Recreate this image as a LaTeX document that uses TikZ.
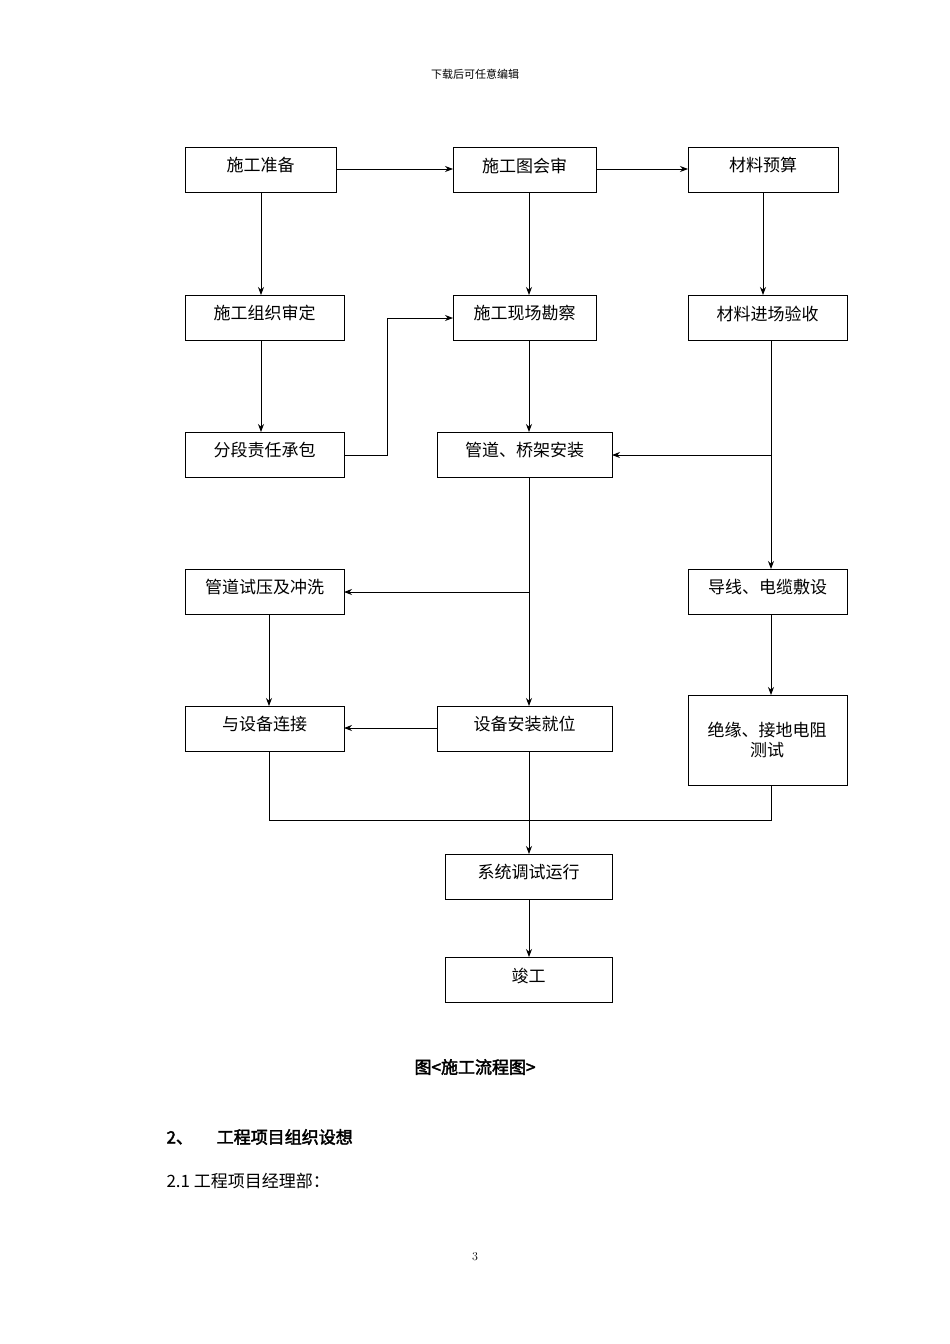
\documentclass[tikz,border=0pt]{standalone}
\usepackage{fontspec}
\newfontfamily\cjk[AutoFakeBold=2.5]{Noto Sans CJK SC}
\usetikzlibrary{arrows.meta}
\begin{document}
\begin{tikzpicture}[x=1pt,y=-1pt,
  bx/.style={draw,line width=0.9pt,inner sep=0pt},
  lbl/.style={font=\cjk\fontsize{17}{20}\selectfont,align=center},
  ar/.style={-{Stealth[length=8pt,width=6pt]},line width=0.8pt},
  ln/.style={line width=0.8pt}]
\useasboundingbox (0,0) rectangle (950,1344);
\def\B#1#2#3#4#5#6{\draw[bx] (#2,#3) rectangle (#4,#5); \coordinate (#1) at ({(#2+#4)/2},{(#3+#5)/2});
  \node[lbl] (#1t) at ({(#2+#4)/2},{(#3+#5)/2-4}) {#6};}
\B{a}{185}{147}{336}{192}{施工准备}
\B{b}{453}{147}{596}{192}{施工图会审}
\B{c}{688}{147}{838}{192}{材料预算}
\B{d}{185}{295}{344}{340}{施工组织审定}
\B{e}{453}{295}{596}{340}{施工现场勘察}
\B{f}{688}{295}{847}{340}{材料进场验收}
\B{g}{185}{432}{344}{477}{分段责任承包}
\B{h}{437}{432}{612}{477}{管道、桥架安装}
\B{i}{185}{569}{344}{614}{管道试压及冲洗}
\B{j}{688}{569}{847}{614}{导线、电缆敷设}
\B{k}{185}{706}{344}{751}{与设备连接}
\B{l}{437}{706}{612}{751}{设备安装就位}
\draw[bx] (688,695) rectangle (847,785);
\node[lbl] (mt) at (767,740) {绝缘、接地电阻\\测试};
\B{n}{445}{854}{612}{899}{系统调试运行}
\B{o}{445}{957}{612}{1002}{竣工}
% connectors
\draw[ar] (336,169) -- (453,169);
\draw[ar] (596,169) -- (688,169);
\draw[ar] (261,192) -- (261,295);
\draw[ar] (529,192) -- (529,295);
\draw[ar] (763,192) -- (763,295);
\draw[ar] (261,340) -- (261,432);
\draw[ar] (344,455) -- (387,455) -- (387,318) -- (453,318);
\draw[ar] (529,340) -- (529,432);
\draw[ar] (771,340) -- (771,569);
\draw[ar] (771,455) -- (612,455);
\draw[ar] (529,477) -- (529,706);
\draw[ar] (529,592) -- (344,592);
\draw[ar] (269,614) -- (269,706);
\draw[ar] (437,728) -- (344,728);
\draw[ar] (771,614) -- (771,695);
\draw[ln] (269,751) -- (269,820) -- (771,820) -- (771,785);
\draw[ar] (529,751) -- (529,854);
\draw[ar] (529,899) -- (529,957);
% texts
\node[font=\cjk\fontsize{11}{13}\selectfont] (hd) at (475,74) {下载后可任意编辑};
\node[font=\cjk\fontsize{17}{20}\selectfont\bfseries] (cap) at (475,1067) {图<施工流程图>};
\node[font=\cjk\fontsize{17}{20}\selectfont\bfseries,anchor=west] (s2) at (163,1137) {2、\hspace{1.4em}工程项目组织设想};
\node[font=\cjk\fontsize{17}{20}\selectfont,anchor=west] (s21) at (163,1181) {2.1 工程项目经理部：};
\node[font=\fontsize{12}{14}\selectfont] (pg) at (475,1257) {3};
\end{tikzpicture}
\end{document}
